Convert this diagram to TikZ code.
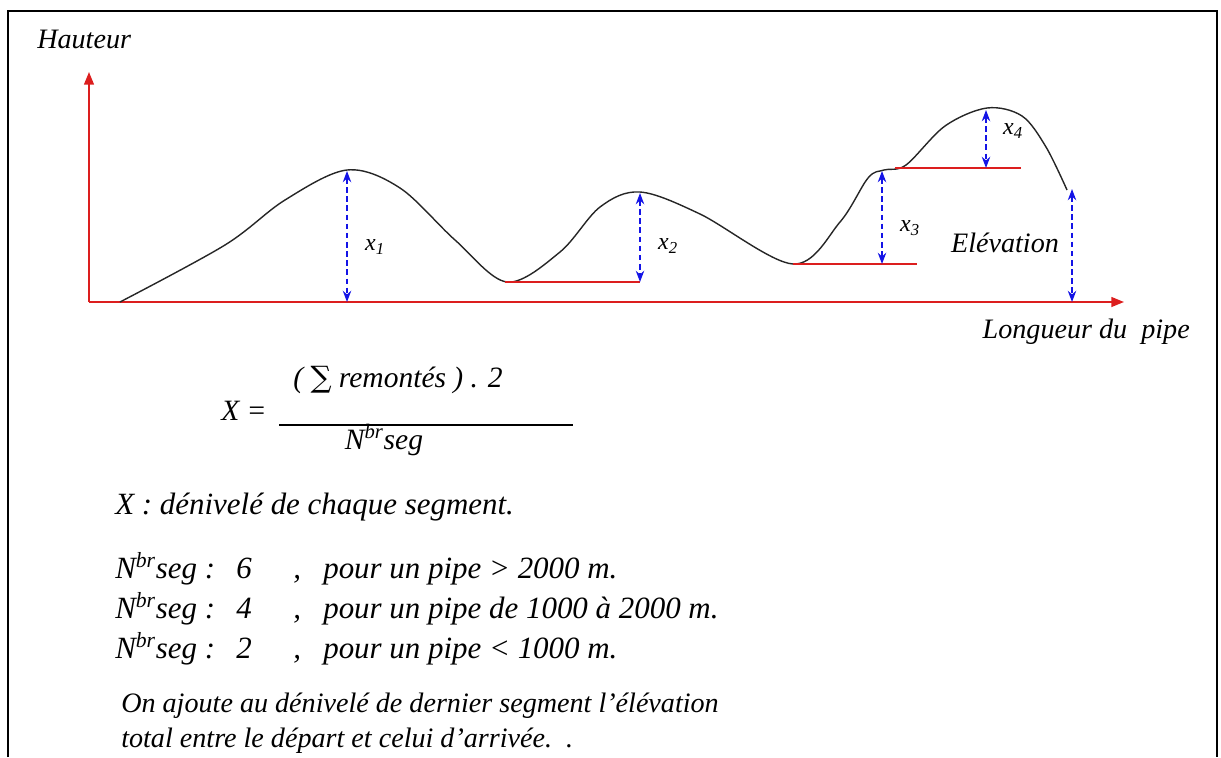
\documentclass[tikz,border=0pt]{standalone}
\usepackage{fontspec}
\setmainfont{Liberation Serif}
\newfontfamily\symfnt{DejaVu Serif}
\usetikzlibrary{arrows.meta}
\definecolor{axred}{RGB}{220,30,30}
\definecolor{arrblue}{RGB}{20,20,230}
\tikzset{
  axis/.style={draw=axred, line width=1.2pt, -{Triangle[length=9pt,width=7pt]}},
  redline/.style={draw=axred, line width=1.1pt},
  meas/.style={draw=arrblue, line width=1.1pt, dash pattern=on 4pt off 2.5pt, {Stealth[length=8pt,width=6pt]}-{Stealth[length=8pt,width=6pt]}},
  txt/.style={inner sep=0pt, font=\fontsize{20}{24}\selectfont\itshape},
  bigtxt/.style={inner sep=0pt, anchor=base west, font=\fontsize{22}{26}\selectfont\itshape},
  lbl/.style={inner sep=0pt, font=\fontsize{17}{20}\selectfont\itshape},
}
\begin{document}
\begin{tikzpicture}[x=0.025cm,y=-0.025cm]
\useasboundingbox (0,0) rectangle (1221,757);
% frame
\draw[line width=2pt] (8,757) -- (8,11) -- (1217,11) -- (1217,757);
% axes
\coordinate (O) at (89,302);
\coordinate (Ytip) at (89,72);
\coordinate (Xtip) at (1124,302);
\draw[axis] (O) -- (Ytip);
\draw[axis] (O) -- (Xtip);
\node[txt, anchor=base west] (hauteur) at (37,48) {Hauteur};
\node[txt, anchor=base east] (longueur) at (1190,338) {Longueur du\ \ pipe};
% profile
\draw[line width=1pt, black!85] plot[smooth, tension=0.55] coordinates {
 (120,302) (225,245) (285,200) (347,170) (400,188) (455,240) (507,282)
 (560,252) (600,207) (640,192) (700,214) (793,264) (840,222) (868,178)
 (884,170) (906,165) (945,126) (987,108) (1022,116) (1046,147) (1067,190)};
% red reference lines
\coordinate (t1) at (505,282); \coordinate (t1e) at (640,282);
\coordinate (t2) at (793,264); \coordinate (t2e) at (917,264);
\coordinate (t3) at (895,168); \coordinate (t3e) at (1021,168);
\draw[redline] (t1) -- (t1e);
\draw[redline] (t2) -- (t2e);
\draw[redline] (t3) -- (t3e);
% measurement arrows
\coordinate (p1) at (347,171); \coordinate (b1) at (347,302);
\coordinate (p2) at (640,193); \coordinate (b2) at (640,282);
\coordinate (p3) at (882,171); \coordinate (b3) at (882,264);
\coordinate (p4) at (986,110); \coordinate (b4) at (986,168);
\coordinate (p5) at (1072,189); \coordinate (b5) at (1072,302);
\draw[meas] (p1) -- (b1);
\draw[meas] (p2) -- (b2);
\draw[meas] (p3) -- (b3);
\draw[meas] (p4) -- (b4);
\draw[meas] (p5) -- (b5);
\node[lbl] (x1) at (375,247) {x\textsubscript{1}};
\node[lbl] (x2) at (668,246) {x\textsubscript{2}};
\node[lbl] (x3) at (910,228) {x\textsubscript{3}};
\node[lbl] (x4) at (1013,131) {x\textsubscript{4}};
\node[txt] (elev) at (1005,243) {Elévation};
% formula
\node[txt, anchor=base west, font=\fontsize{21}{24}\selectfont\itshape] (Xeq) at (221,420) {X =};
\node[txt, anchor=base, font=\fontsize{21}{24}\selectfont\itshape] (num) at (398,387) {( {\symfnt\upshape ∑} remontés ) . 2};
\coordinate (fl) at (279,425); \coordinate (fr) at (573,425);
\draw[line width=0.9pt] (fl) -- (fr);
\node[txt, anchor=base, font=\fontsize{21}{24}\selectfont\itshape] (den) at (384,449) {N\textsuperscript{br}seg};
% explanation text
\node[bigtxt] (def) at (115,514) {X : dénivelé de chaque segment.};
\node[bigtxt] (n1) at (115,578) {N\textsuperscript{br}seg :};
\node[bigtxt] (n1v) at (236,578) {6};
\node[bigtxt] (n1c) at (293,578) {,};
\node[bigtxt] (n1t) at (323,578) {pour un pipe > 2000 m.};
\node[bigtxt] (n2) at (115,618) {N\textsuperscript{br}seg :};
\node[bigtxt] (n2v) at (236,618) {4};
\node[bigtxt] (n2c) at (293,618) {,};
\node[bigtxt] (n2t) at (323,618) {pour un pipe de 1000 à 2000 m.};
\node[bigtxt] (n3) at (115,658) {N\textsuperscript{br}seg :};
\node[bigtxt] (n3v) at (236,658) {2};
\node[bigtxt] (n3c) at (293,658) {,};
\node[bigtxt] (n3t) at (323,658) {pour un pipe < 1000 m.};
\node[txt, anchor=base west] (note1) at (121,712) {On ajoute au dénivelé de dernier segment l’élévation};
\node[txt, anchor=base west] (note2) at (121,747) {total entre le départ et celui d’arrivée.\ \ .};
\end{tikzpicture}
\end{document}
